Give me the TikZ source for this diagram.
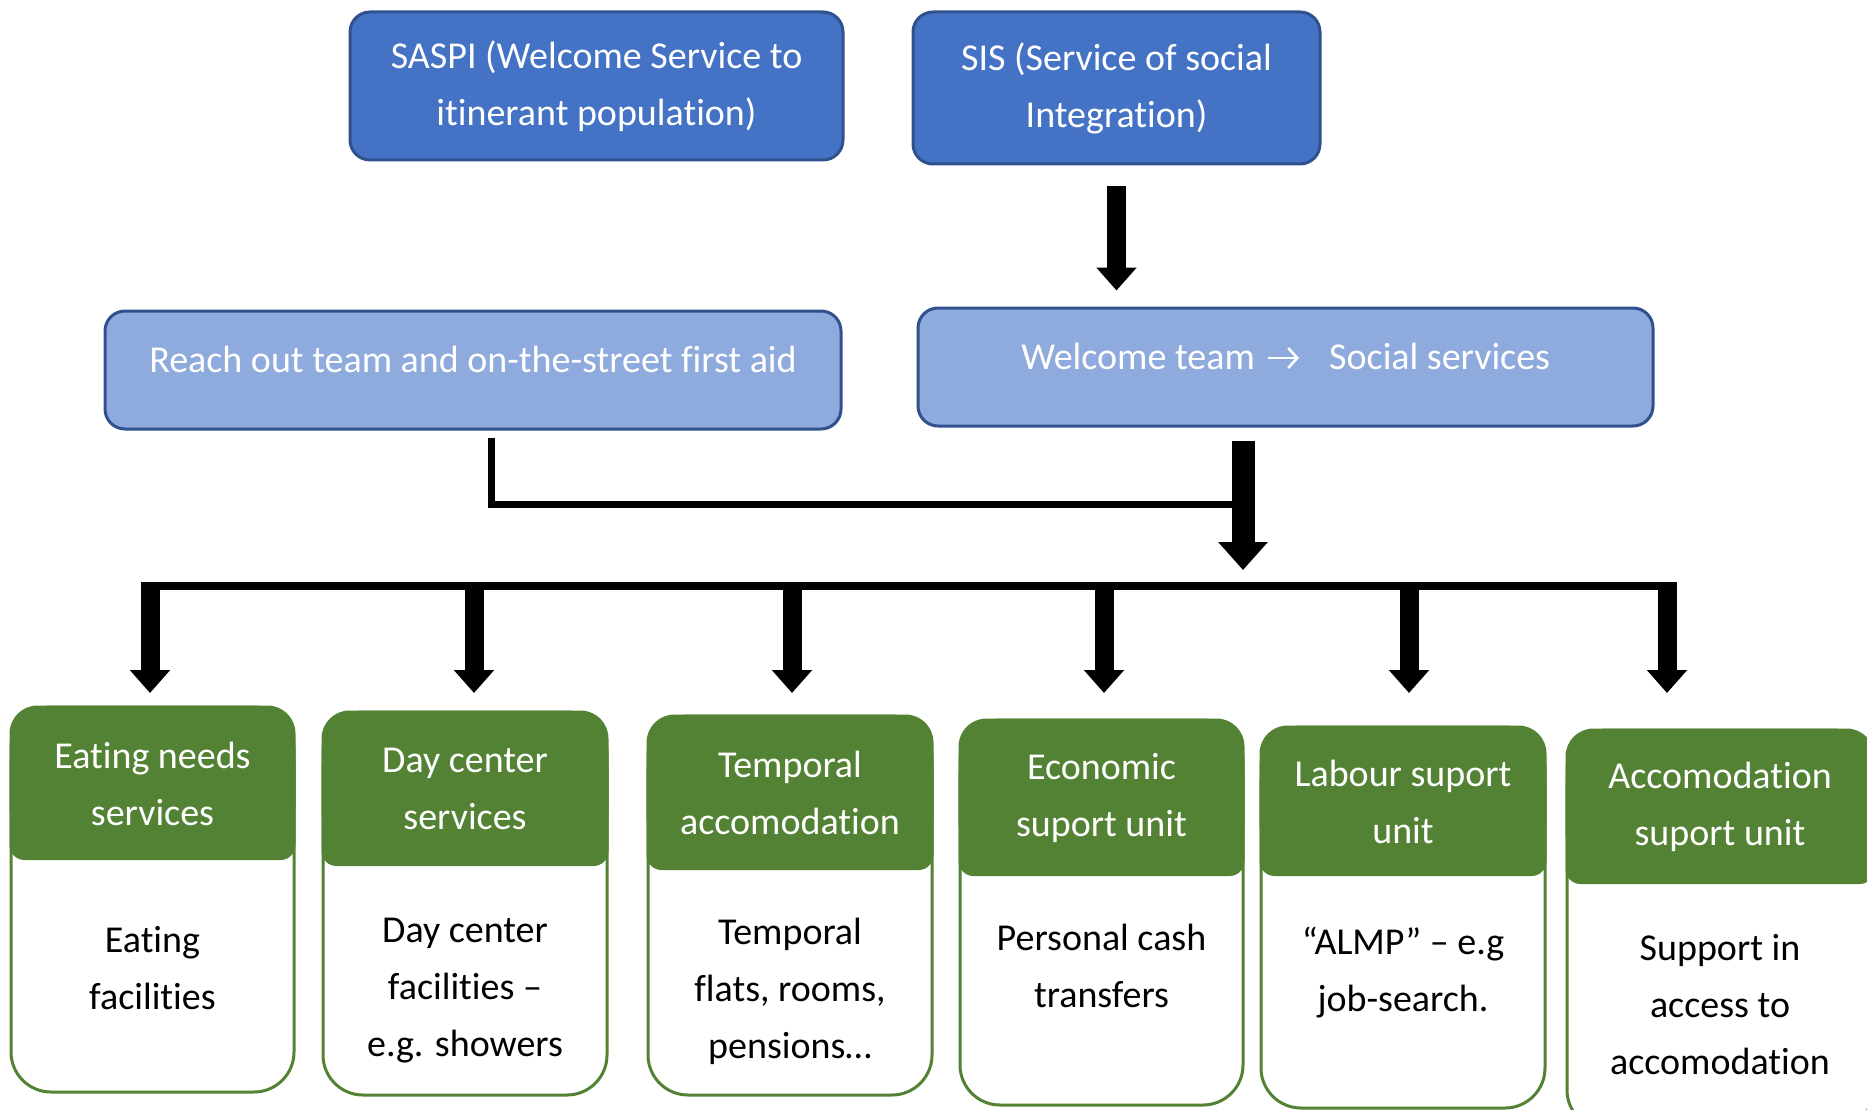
\documentclass[tikz,border=0pt]{standalone}
\usepackage{fontspec}
\setmainfont{Carlito}[Ligatures=CommonOff]
\usetikzlibrary{arrows.meta}

\definecolor{topblue}{HTML}{4472C4}
\definecolor{paleblue}{HTML}{8FAADC}
\definecolor{edgeblue}{HTML}{2F528F}
\definecolor{unitgreen}{HTML}{548235}

\tikzset{
  txt/.style={font=\fontsize{38}{57}\selectfont, align=center, inner sep=0pt},
  topbox/.style={rectangle, rounded corners=20, draw=edgeblue, line width=3,
    fill=topblue, text=white, txt},
  teambox/.style={rectangle, rounded corners=20, draw=edgeblue, line width=3, fill=paleblue},
  teamtext/.style={txt, text=white},
  unitframe/.style={rectangle, rounded corners=40, draw=unitgreen, line width=3,
    fill=white, outer sep=0pt},
  unithead/.style={txt, text=white},
  unitbody/.style={txt, text=black},
  bigarrow/.style={line width=19, -{Triangle[width=39pt,length=23pt]}},
  hubarrow/.style={line width=23, -{Triangle[width=48pt,length=28pt]}},
  barline/.style={line width=8},
  joinline/.style={line width=7},
  textarrow/.style={white, line width=2.6, -{Straight Barb[length=9pt,width=20pt]}},
}

% service unit: #1 name, #2 left, #3 right, #4 top, #5 bottom,
% #6 header bottom, #7 header text, #8 body text, #9 body text centre
\newcommand\serviceunit[9]{%
  \node[unitframe, minimum width={#3-#2}, minimum height={#5-#4}]
    (#1) at ({(#2+#3)/2},{(#4+#5)/2}) {};
  \fill[unitgreen, rounded corners=28] (#2-1.5,#4-1.5) rectangle (#3+1.5,#6-25);
  \fill[unitgreen, rounded corners=15] (#2-1.5,#4+40) rectangle (#3+1.5,#6);
  \node[unithead] (#1h) at ({(#2+#3)/2},{(#4+#6)/2}) {#7};
  \node[unitbody] (#1b) at ({(#2+#3)/2},#9) {#8};
}

\begin{document}
\begin{tikzpicture}[x=1pt,y=-1pt]
\useasboundingbox (0,0) rectangle (1867,1110);
\clip (0,0) rectangle (1867,1110);

% services
\node[topbox, minimum width=493, minimum height=148] (saspi) at (596.5,86)
  {SASPI (Welcome Service to\\itinerant population)};
\node[topbox, minimum width=407, minimum height=152] (sis) at (1116.5,88)
  {SIS (Service of social\\Integration)};

% teams
\node[teambox, minimum width=736, minimum height=118] (reach) at (473,370) {};
\node[teamtext] (reachT) at (473,359) {Reach out team and on-the-street first aid};
\node[teambox, minimum width=735, minimum height=118] (welcome) at (1285.5,367) {};
\node[teamtext, anchor=east] (welcomeA) at (1255,356) {Welcome team};
\node[teamtext, anchor=west] (welcomeB) at (1329,356) {Social services};
\draw[textarrow] ([xshift=13pt,yshift=-2pt]welcomeA.east) -- ([xshift=-30pt,yshift=-2pt]welcomeB.west);

\draw[bigarrow, shorten <=21pt, shorten >=16pt] (sis.south) -- (sis.south |- welcome.north);

% joining lines
\coordinate (j1) at (491,504);
\coordinate (j2) at (1243,504);
\coordinate (hubtip) at (1243,570);
\draw[joinline, shorten <=7pt] (reach.south -| j1) -- (j1) -- (j2);
\draw[hubarrow, shorten <=13pt] (welcome.south -| hubtip) -- (hubtip);

\coordinate (barL) at (140.5,586);
\coordinate (barR) at (1676.5,586);
\draw[barline] (barL) -- (barR);

% units
\serviceunit{u1}{11}{294}{707}{1092}{860}{Eating needs\\services}{Eating\\facilities}{968}
\serviceunit{u2}{323}{607}{712}{1095}{866}{Day center\\services}{Day center\\facilities –\\e.g. showers}{991}
\serviceunit{u3}{648}{932}{716}{1095}{870}{Temporal\\accomodation}{Temporal\\flats, rooms,\\pensions…}{991}
\serviceunit{u4}{960}{1243}{720}{1105}{876}{Economic\\suport unit}{Personal cash\\transfers}{966}
\serviceunit{u5}{1261}{1545}{727}{1108}{876}{Labour suport\\unit}{“ALMP” – e.g\\job-search.}{973}
\serviceunit{u6}{1567}{1873}{730}{1130}{884}{Accomodation\\suport unit}{Support in\\access to\\accomodation}{1005}

% branches
\coordinate (tips) at (0,693);
\coordinate (d1) at (150,582);
\coordinate (d2) at (474,582);
\coordinate (d3) at (792,582);
\coordinate (d4) at (1104,582);
\coordinate (d5) at (1409,582);
\coordinate (d6) at (1667,582);
\foreach \d in {d1,d2,d3,d4,d5,d6}
  \draw[bigarrow] (\d) -- (\d |- tips);
\end{tikzpicture}
\end{document}
